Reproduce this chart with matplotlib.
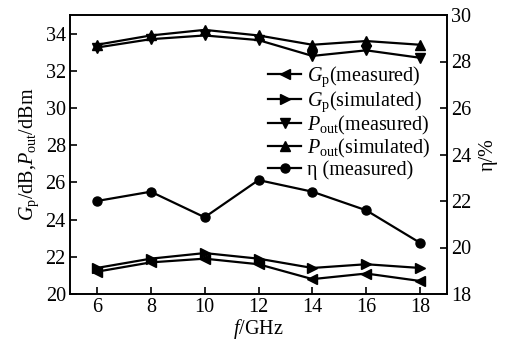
import matplotlib
matplotlib.use("Agg")
import matplotlib.pyplot as plt

plt.rcParams['font.family'] = ['Liberation Serif', 'DejaVu Serif']
plt.rcParams['mathtext.fontset'] = 'custom'
plt.rcParams['mathtext.rm'] = 'Liberation Serif'
plt.rcParams['mathtext.it'] = 'Liberation Serif:italic'

freq = [6, 8, 10, 12, 14, 16, 18]
gp_meas = [21.2, 21.7, 21.9, 21.6, 20.8, 21.1, 20.7]
gp_sim = [21.4, 21.9, 22.2, 21.9, 21.4, 21.6, 21.4]
pout_meas = [33.25, 33.7, 33.9, 33.65, 32.8, 33.1, 32.7]
pout_sim = [33.4, 33.9, 34.2, 33.9, 33.4, 33.6, 33.4]
eta_meas = [22.0, 22.4, 21.3, 22.9, 22.4, 21.6, 20.2]

fs = 14.5
fig = plt.figure(figsize=(5.06, 3.43), dpi=100)
ax = fig.add_axes([70/506, 1-294/343, (447-70)/506, (294-15)/343])
ax2 = ax.twinx()

kw = dict(color='black', lw=1.6, ms=6.5)
l1, = ax.plot(freq, gp_meas, marker='<', label=r'$G_\mathrm{p}$(measured)', **kw)
l2, = ax.plot(freq, gp_sim, marker='>', label=r'$G_\mathrm{p}$(simulated)', **kw)
l3, = ax.plot(freq, pout_meas, marker='v', label=r'$P_\mathrm{out}$(measured)', **kw)
l4, = ax.plot(freq, pout_sim, marker='^', label=r'$P_\mathrm{out}$(simulated)', **kw)
l5, = ax2.plot(freq, eta_meas, marker='o', label='η (measured)', **kw)

ax.set_xlim(5, 19)
ax.set_ylim(20, 35)
ax2.set_ylim(18, 30)
ax.set_xticks(freq)
ax.set_yticks([20, 22, 24, 26, 28, 30, 32, 34])
ax2.set_yticks([18, 20, 22, 24, 26, 28, 30])

for a in (ax, ax2):
    a.tick_params(direction='in', length=5, width=1.2, labelsize=fs, pad=3)
    for s in a.spines.values():
        s.set_linewidth(1.2)
ax.tick_params(top=False)

ax.set_xlabel(r'$f$/GHz', fontsize=fs, labelpad=0)
ax.set_ylabel(r'$G_\mathrm{p}$/dB,$P_\mathrm{out}$/dBm', fontsize=fs, labelpad=3)
ax2.set_ylabel('η/%', fontsize=fs, labelpad=5)

leg = ax.legend(handles=[l1, l2, l3, l4, l5], loc='upper left',
                bbox_to_anchor=(0.505, 0.85), frameon=False, fontsize=fs,
                handlelength=1.6, handletextpad=0.3, labelspacing=0.0,
                borderaxespad=0)

fig.savefig('out.png', dpi=100)
